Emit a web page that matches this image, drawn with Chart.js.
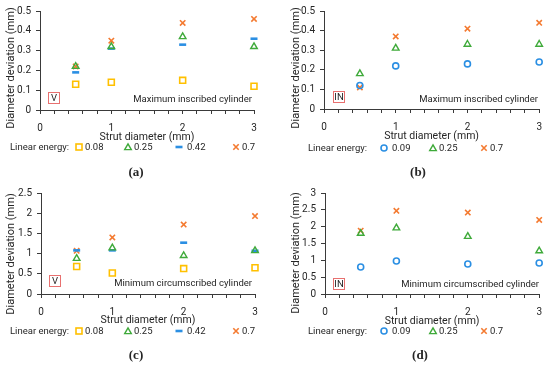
<!DOCTYPE html>
<html>
<head>
<meta charset="utf-8">
<script src="https://cdn.jsdelivr.net/npm/chart.js@4.4.1/dist/chart.umd.min.js"></script>
<style>
  body { margin:0; background:#fff; width:550px; height:365px; position:relative; overflow:hidden;
         font-family:Roboto, sans-serif; color:#262626; }
  canvas { position:absolute; }
  .t   { position:absolute; white-space:nowrap; font-size:9.5px; line-height:12px; transform:translateY(-50%); }
  .yt  { position:absolute; white-space:nowrap; font-size:11px; line-height:13px; transform:translate(-50%,-50%) rotate(-90deg); }
  .box { position:absolute; border:1px solid #E8706F; font-size:9.5px; line-height:10px; text-align:center; box-sizing:border-box; }
  .cap { position:absolute; font-family:'Liberation Serif', serif; font-weight:bold; font-size:13px; transform:translate(-50%,-50%); }
  .mk  { position:absolute; width:10px; height:10px; line-height:0; transform:translate(-50%,-50%); }
  .mk svg { display:block; }
</style>
</head>
<body>
<script>
// ── data ────────────────────────────────────────────────
const strutDiameter = [0.5, 1, 2, 3];

// (a) V, maximum inscribed cylinder
const inscV_008 = [0.13, 0.14, 0.15, 0.12];
const inscV_025 = [0.22, 0.32, 0.37, 0.32];
const inscV_042 = [0.19, 0.31, 0.33, 0.36];
const inscV_07  = [0.22, 0.35, 0.44, 0.46];

// (b) IN, maximum inscribed cylinder
const inscIN_009 = [0.12, 0.22, 0.23, 0.24];
const inscIN_025 = [0.18, 0.31, 0.33, 0.33];
const inscIN_07  = [0.11, 0.37, 0.41, 0.44];

// (c) V, minimum circumscribed cylinder
const circV_008 = [0.68, 0.52, 0.63, 0.65];
const circV_025 = [0.88, 1.14, 0.95, 1.07];
const circV_042 = [1.08, 1.08, 1.27, 1.07];
const circV_07  = [1.07, 1.40, 1.72, 1.93];

// (d) IN, minimum circumscribed cylinder
const circIN_009 = [0.80, 0.98, 0.89, 0.92];
const circIN_025 = [1.80, 1.96, 1.71, 1.28];
const circIN_07  = [1.88, 2.47, 2.42, 2.20];

const yMaxInsc  = 0.5, yStepInsc  = 0.1;
const yMaxCircV = 2.5, yMaxCircIN = 3, yStepCirc = 0.5;

// ── styles ──────────────────────────────────────────────
const YELLOW = '#FFC000', GREEN = '#3FAA3A', BLUE = '#2B8FE3', ORANGE = '#F47A30';
const AXIS = '#3a3a3a', TXT = '#262626';

const STY = {
  '0.08': { pointStyle:'rect',     radius:4.2, borderWidth:1.6, borderColor:YELLOW },
  '0.09': { pointStyle:'circle',   radius:3,   borderWidth:1.6, borderColor:BLUE },
  '0.25': { pointStyle:'triangle', radius:3.8, borderWidth:1.4, borderColor:GREEN },
  '0.42': { pointStyle:'line',     radius:3.5, borderWidth:2.6, borderColor:BLUE },
  '0.7':  { pointStyle:'crossRot', radius:3.8, borderWidth:1.6, borderColor:ORANGE }
};

function marker(key) {
  const c = STY[key].borderColor;
  const s = {
    '0.08': `<rect x="2" y="2" width="6" height="6" fill="none" stroke="${c}" stroke-width="1.6"/>`,
    '0.09': `<circle cx="5" cy="5" r="3" fill="none" stroke="${c}" stroke-width="1.6"/>`,
    '0.25': `<polygon points="5,1.8 8.3,7.6 1.7,7.6" fill="none" stroke="${c}" stroke-width="1.4"/>`,
    '0.42': `<line x1="1.5" y1="5" x2="8.5" y2="5" stroke="${c}" stroke-width="2.6"/>`,
    '0.7':  `<path d="M2.3 2.3L7.7 7.7M7.7 2.3L2.3 7.7" stroke="${c}" stroke-width="1.6"/>`
  }[key];
  return `<svg width="10" height="10" viewBox="0 0 10 10">${s}</svg>`;
}

// positions in panel coords
const PANELS = [
  { left:0,   top:0,   h:144, plot:{l:40,r:254,t:9,b:110}, yt:[10,68], yMax:yMaxInsc,  yStep:yStepInsc,
    series:[['0.08',inscV_008],['0.25',inscV_025],['0.42',inscV_042],['0.7',inscV_07]],
    tag:'V', tagBox:[48,92,12,12], note:'Maximum inscribed cylinder', noteR:252, noteY:99,
    leg:{y:147, lx:10, items:[[79,85],[128,134],[179,187],[236,242]]}, cap:'(a)', capX:136, capY:172 },
  { left:275, top:0,   h:143, plot:{l:49,r:266,t:9,b:109}, yt:[20,68], yMax:yMaxInsc,  yStep:yStepInsc,
    series:[['0.09',inscIN_009],['0.25',inscIN_025],['0.7',inscIN_07]],
    tag:'IN', tagBox:[58,91,12,12], note:'Maximum inscribed cylinder', noteR:263, noteY:99,
    leg:{y:148, lx:33, items:[[109,117],[158,164],[209,215]]}, cap:'(b)', capX:143, capY:172 },
  { left:0,   top:182, h:145, plot:{l:41,r:255,t:10,b:112}, yt:[10,72], yMax:yMaxCircV, yStep:yStepCirc,
    series:[['0.08',circV_008],['0.25',circV_025],['0.42',circV_042],['0.7',circV_07]],
    tag:'V', tagBox:[49,93,12,12], note:'Minimum circumscribed cylinder', noteR:252, noteY:101,
    leg:{y:149, lx:10, items:[[79,85],[128,134],[179,187],[236,242]]}, cap:'(c)', capX:136, capY:173 },
  { left:275, top:182, h:146, plot:{l:50,r:267,t:10,b:112}, yt:[20,71], yMax:yMaxCircIN, yStep:yStepCirc,
    series:[['0.09',circIN_009],['0.25',circIN_025],['0.7',circIN_07]],
    tag:'IN', tagBox:[58,96,12,12], note:'Minimum circumscribed cylinder', noteR:264, noteY:102,
    leg:{y:149, lx:33, items:[[109,117],[158,164],[209,215]]}, cap:'(d)', capX:145, capY:173 }
];

function add(html) { document.body.insertAdjacentHTML('beforeend', html); }

PANELS.forEach(p => {
  const cv = document.createElement('canvas');
  cv.width = 275; cv.height = p.h;
  cv.style.left = p.left + 'px'; cv.style.top = p.top + 'px';
  document.body.appendChild(cv);

  new Chart(cv, {
    type: 'scatter',
    data: {
      datasets: p.series.map(([key, vals]) => ({
        label: key,
        data: strutDiameter.map((x, i) => ({ x, y: vals[i] })),
        backgroundColor: 'transparent',
        clip: false,
        ...STY[key]
      }))
    },
    options: {
      responsive: false,
      animation: false,
      devicePixelRatio: 1,
      layout: { padding: { left:0, right:275 - p.plot.r, top:p.plot.t, bottom:0 } },
      plugins: { legend: { display:false }, tooltip: { enabled:false } },
      scales: {
        x: {
          type: 'linear', min: 0, max: 3,
          afterFit: s => { s.height = p.h - p.plot.b; },
          border: { color: AXIS, width: 1 },
          grid: { drawOnChartArea:false, color: AXIS, tickLength: 4 },
          ticks: {
            stepSize: 0.2, autoSkip: false, maxRotation: 0, padding: 8,
            color: TXT, font: { family:'Roboto', size:10 },
            callback: v => Math.abs(v - Math.round(v)) < 1e-6 ? String(Math.round(v)) : ''
          },
          title: { display:true, text:'Strut diameter (mm)', color:TXT,
                   font:{ family:'Roboto', size:10.5 }, padding:{ top:0, bottom:0 } }
        },
        y: {
          min: 0, max: p.yMax,
          afterFit: s => { s.width = p.plot.l; },
          border: { color: AXIS, width: 1 },
          grid: { drawOnChartArea:false, color: AXIS, tickLength: 4 },
          ticks: {
            stepSize: p.yStep, padding: 5, color: TXT, font: { family:'Roboto', size:10 },
            callback: v => +v.toFixed(1)
          }
        }
      }
    }
  });

  const X = v => p.left + v, Y = v => p.top + v;
  add(`<div class="yt" style="left:${X(p.yt[0])}px;top:${Y(p.yt[1])}px">Diameter deviation (mm)</div>`);
  const [bx, by, bw, bh] = p.tagBox;
  add(`<div class="box" style="left:${X(bx)}px;top:${Y(by)}px;width:${bw}px;height:${bh}px;line-height:${bh-2}px">${p.tag}</div>`);
  add(`<div class="t" style="right:${550 - X(p.noteR)}px;top:${Y(p.noteY)}px">${p.note}</div>`);
  add(`<div class="t" style="left:${X(p.leg.lx)}px;top:${Y(p.leg.y)}px">Linear energy:</div>`);
  p.series.forEach(([key], i) => {
    const [mx, tx] = p.leg.items[i];
    add(`<div class="mk" style="left:${X(mx)}px;top:${Y(p.leg.y)}px">${marker(key)}</div>`);
    add(`<div class="t" style="left:${X(tx)}px;top:${Y(p.leg.y)}px">${key}</div>`);
  });
  add(`<div class="cap" style="left:${X(p.capX)}px;top:${Y(p.capY)}px">${p.cap}</div>`);
});
</script>
</body>
</html>
